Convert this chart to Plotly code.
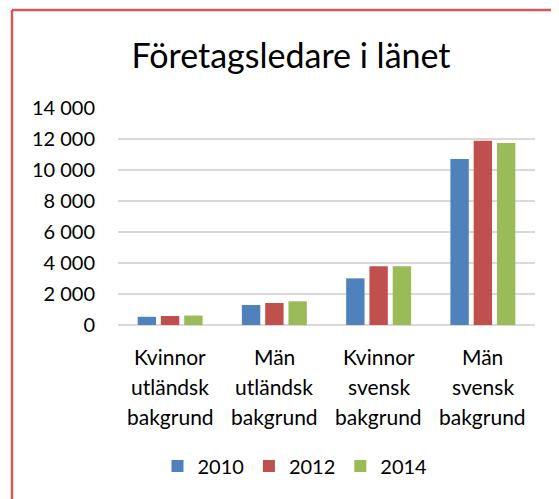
import plotly.graph_objects as go

categories = ["Kvinnor utländsk bakgrund", "Män utländsk bakgrund",
              "Kvinnor svensk bakgrund", "Män svensk bakgrund"]
category_lines = [["Kvinnor", "utländsk", "bakgrund"],
                  ["Män", "utländsk", "bakgrund"],
                  ["Kvinnor", "svensk", "bakgrund"],
                  ["Män", "svensk", "bakgrund"]]
years = ["2010", "2012", "2014"]
values_2010 = [530, 1290, 3010, 10710]
values_2012 = [580, 1420, 3790, 11890]
values_2014 = [610, 1530, 3790, 11740]
tick_vals = [0, 2000, 4000, 6000, 8000, 10000, 12000, 14000]
tick_text = ["0", "2 000", "4 000", "6 000", "8 000", "10 000", "12 000", "14 000"]
colors = ["#4f81bd", "#c0504d", "#9bbb59"]

FONT = "Lato"
OFF = 8  # page body margin offset
W, H = 559, 499
L, R, T, B = 118 - OFF, 24 + OFF, 108 - OFF, 174 + OFF
pw, ph = W - L - R, H - T - B

def px_x(x):
    return (x - OFF - L) / pw

def px_y(y):
    return (H - B - (y - OFF)) / ph

fig = go.Figure()
for name, vals, c in zip(years, [values_2010, values_2012, values_2014], colors):
    fig.add_trace(go.Bar(x=categories, y=vals, name=name,
                         marker=dict(color=c, line=dict(width=0))))

annotations = []
line_ys = [356, 386, 416]
for cat, lines in zip(categories, category_lines):
    for ln, yy in zip(lines, line_ys):
        annotations.append(dict(x=cat, xref="x", y=px_y(yy), yref="paper",
                                text=ln, showarrow=False, yanchor="middle",
                                font=dict(family=FONT, size=21, color="#000000")))

fig.update_layout(
    width=W, height=H,
    margin=dict(l=L, r=R, t=T, b=B, pad=0),
    paper_bgcolor="white", plot_bgcolor="white",
    title=dict(text="Företagsledare i länet", x=(291 - OFF) / W,
               xanchor="center", y=1 - (56 - OFF) / H, yanchor="middle",
               font=dict(family=FONT, size=34, color="#000000")),
    barmode="group", bargap=0.33, bargroupgap=0.21,
    xaxis=dict(showticklabels=False, showline=False, showgrid=False,
               zeroline=False, ticks=""),
    yaxis=dict(range=[0, 14000], tickvals=tick_vals, ticktext=tick_text,
               showgrid=True, gridcolor="#d9d9d9", gridwidth=1.5,
               zeroline=True, zerolinecolor="#d9d9d9", zerolinewidth=1.5,
               showline=False, ticks="", ticklabelstandoff=22,
               tickfont=dict(family=FONT, size=20, color="#000000")),
    legend=dict(orientation="h", x=px_x(295), xanchor="center",
                y=px_y(466), yanchor="middle",
                font=dict(family=FONT, size=20, color="#000000"),
                itemwidth=30, tracegroupgap=0),
    annotations=annotations,
    shapes=[
        dict(type="line", xref="paper", yref="paper",
             x0=px_x(12), x1=px_x(570), y0=px_y(10), y1=px_y(10),
             line=dict(color="#d05a5a", width=2.5)),
        dict(type="line", xref="paper", yref="paper",
             x0=px_x(12), x1=px_x(12), y0=px_y(10), y1=px_y(510),
             line=dict(color="#d05a5a", width=2.5)),
    ],
    showlegend=True,
)

fig.write_html("out.html")
